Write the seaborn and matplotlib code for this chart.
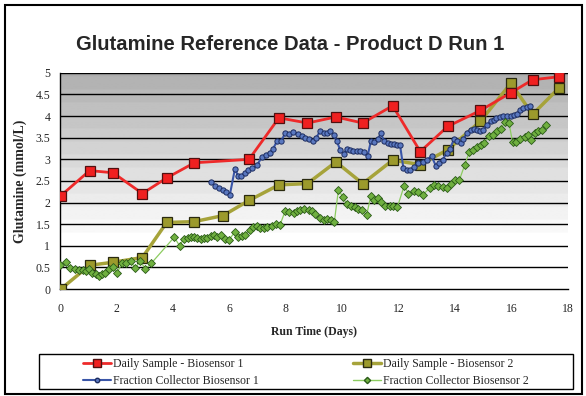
import numpy as np
import pandas as pd
import matplotlib
matplotlib.use("Agg")
import matplotlib.pyplot as plt
from matplotlib.lines import Line2D
from matplotlib.patches import Rectangle
import seaborn as sns

# daily samples
daily_days = [0.03, 1.05, 1.88, 2.92, 3.78, 4.76, 5.78, 6.70, 7.76, 8.77, 9.78,
              10.73, 11.79, 12.77, 13.74, 14.9, 15.98, 16.75, 17.67]
daily_bio1 = [2.16, 2.74, 2.69, 2.21, 2.57, 2.92, None, 3.00, 3.96, 3.84, 3.98,
              3.84, 4.24, 3.18, 3.76, 4.13, 4.54, 4.84, 4.91]
daily_bio2 = [0.00, 0.55, 0.62, 0.73, 1.54, 1.56, 1.70, 2.05, 2.41, 2.44, 2.94,
              2.44, 2.98, 2.88, 3.22, 3.88, 4.76, 4.04, 4.64]

# fraction collector, biosensor 1
frac1_days = [5.35, 5.50, 5.63, 5.76, 5.89, 6.02, 6.20, 6.32, 6.41, 6.54, 6.68, 6.82,
              6.98, 7.16, 7.30, 7.43, 7.55, 7.69, 7.83, 7.98, 8.11, 8.25, 8.42, 8.57,
              8.69, 8.81, 8.96, 9.08, 9.22, 9.34, 9.46, 9.58, 9.70, 9.81, 9.93, 10.05,
              10.17, 10.29, 10.40, 10.52, 10.64, 10.76, 10.90, 11.02, 11.12, 11.26,
              11.37, 11.49, 11.61, 11.73, 11.84, 11.96, 12.05, 12.17, 12.29, 12.41,
              12.55, 12.70, 12.88, 13.00, 13.17, 13.33, 13.43, 13.56, 13.71, 13.82,
              13.96, 14.06, 14.20, 14.30, 14.41, 14.55, 14.67, 14.79, 14.88, 15.00,
              15.14, 15.27, 15.38, 15.47, 15.61, 15.71, 15.85, 15.97, 16.09, 16.20,
              16.32, 16.41, 16.55, 16.67]
frac1_vals = [2.47, 2.39, 2.34, 2.28, 2.24, 2.18, 2.78, 2.61, 2.62, 2.68, 2.75, 2.80,
              2.86, 3.06, 3.11, 3.15, 3.24, 3.42, 3.42, 3.60, 3.58, 3.63, 3.59, 3.53,
              3.49, 3.47, 3.42, 3.50, 3.65, 3.61, 3.62, 3.65, 3.57, 3.42, 3.22, 3.13,
              3.24, 3.21, 3.19, 3.19, 3.19, 3.16, 3.07, 3.42, 3.40, 3.46,
              3.60, 3.42, 3.38, 3.36, 3.35, 3.33, 3.34, 2.80, 2.76, 2.76,
              2.82, 2.92, 2.93, 2.99, 3.07, 2.84, 2.92, 2.99, 3.15, 3.24,
              3.46, 3.43, 3.38, 3.46, 3.60, 3.69, 3.70, 3.69, 3.65, 3.69,
              3.80, 3.88, 3.92, 3.96, 3.98, 4.00, 4.01, 4.01, 4.03, 4.06,
              4.15, 4.19, 4.21, 4.23]

# fraction collector, biosensor 2
frac2_days = [0.00, 0.22, 0.37, 0.52, 0.66, 0.80, 0.93, 1.02, 1.14, 1.26, 1.37, 1.49,
              1.59, 1.73, 1.87, 2.02, 2.20, 2.34, 2.50, 2.67, 2.85, 3.03, 3.24, 4.05,
              4.24, 4.38, 4.52, 4.64, 4.75, 4.87, 4.99, 5.10, 5.22, 5.34, 5.46, 5.57,
              5.69, 5.84, 5.99, 6.21, 6.32, 6.44, 6.56, 6.72, 6.83, 6.97, 7.09, 7.23,
              7.35, 7.51, 7.66, 7.80, 7.98, 8.13, 8.28, 8.40, 8.51, 8.66, 8.81, 8.93,
              9.05, 9.22, 9.34, 9.48, 9.60, 9.72, 9.87, 10.02, 10.16, 10.31, 10.46,
              10.58, 10.70, 10.87, 11.02, 11.12, 11.26, 11.37, 11.53, 11.68, 11.82,
              11.96, 12.20, 12.35, 12.55, 12.70, 12.86, 13.11, 13.26, 13.41, 13.56,
              13.71, 13.85, 14.01, 14.16, 14.35, 14.50, 14.65, 14.79, 14.91, 15.03,
              15.22, 15.36, 15.50, 15.62, 15.77, 15.92, 16.04, 16.18, 16.32, 16.48,
              16.60, 16.71, 16.83, 16.95, 17.10, 17.22]
frac2_vals = [0.56, 0.62, 0.49, 0.46, 0.45, 0.43, 0.41, 0.46, 0.38, 0.35, 0.31, 0.35,
              0.38, 0.46, 0.51, 0.37, 0.60, 0.60, 0.64, 0.49, 0.64, 0.46, 0.60, 1.20,
              1.00, 1.16, 1.18, 1.20, 1.20, 1.18, 1.16, 1.18, 1.18, 1.22, 1.24, 1.20,
              1.26, 1.16, 1.14, 1.33, 1.20, 1.22, 1.26, 1.37, 1.43, 1.46, 1.41, 1.41,
              1.43, 1.46, 1.51, 1.49, 1.80, 1.78, 1.76, 1.80, 1.84, 1.85, 1.82, 1.80,
              1.74, 1.64, 1.60, 1.62, 1.60, 1.54, 2.30, 2.13, 1.97, 1.91, 1.90,
              1.85, 1.82, 1.72, 2.16, 2.07, 2.10, 2.01, 1.93, 1.91, 1.93,
              1.90, 2.39, 2.21, 2.26, 2.24, 2.18, 2.34, 2.41, 2.39, 2.36,
              2.34, 2.44, 2.53, 2.53, 2.88, 3.16, 3.22, 3.29, 3.34, 3.38,
              3.53, 3.57, 3.65, 3.70, 3.86, 3.83, 3.39, 3.41, 3.46, 3.52,
              3.57, 3.44, 3.60, 3.65, 3.67, 3.80]

labels = ["Daily Sample - Biosensor 1", "Daily Sample - Biosensor 2",
          "Fraction Collector Biosensor 1", "Fraction Collector Biosensor 2"]
x_ticks = list(range(0, 19, 2))
y_ticks = [0, 0.5, 1, 1.5, 2, 2.5, 3, 3.5, 4, 4.5, 5]

sns.set_style("white")
plt.rcParams["font.family"] = ["Liberation Serif", "DejaVu Serif"]

fig = plt.figure(figsize=(5.86, 3.96), dpi=100)
ax = fig.add_axes([0.1024, 0.270, 0.8666, 0.546])

# grey gradient background of the plot area
yy = np.linspace(0, 5, 400)
shade = np.clip(1.0 - (yy - 1.15) / 3.85 * 0.32, 0.68, 1.0)
shade = np.round(shade * 40) / 40
ax.imshow(shade[:, None], extent=[0, 18, 0, 5], origin="lower", aspect="auto",
          cmap="gray", vmin=0, vmax=1, zorder=0)

ax.set_axisbelow(True)
for y in y_ticks[1:]:
    ax.axhline(y, color="black", lw=1.0, zorder=1)

red = "#ee2a2a"
olive = "#a6a33a"
blue = "#3a56a8"
green_line = "#8ccc60"

df_daily = pd.DataFrame({"day": daily_days, "bio1": daily_bio1, "bio2": daily_bio2})
d1 = df_daily.dropna(subset=["bio1"])
sns.lineplot(data=df_daily, x="day", y="bio2", ax=ax, color=olive, lw=2.5,
             marker="s", ms=7, mfc="#9c9a2c", mec="#2a2a10", mew=0.9,
             estimator=None, sort=False, zorder=3)
sns.lineplot(data=d1, x="day", y="bio1", ax=ax, color=red, lw=2.0,
             marker="s", ms=7, mfc="#f02020", mec="#501010", mew=0.9,
             estimator=None, sort=False, zorder=5)

df_f1 = pd.DataFrame({"day": frac1_days, "val": frac1_vals})
sns.lineplot(data=df_f1, x="day", y="val", ax=ax, color=blue, lw=1.5,
             marker="o", ms=3.8, mfc="#5a78c0", mec="#1c2c60", mew=0.7,
             estimator=None, sort=False, zorder=4)
df_f2 = pd.DataFrame({"day": frac2_days, "val": frac2_vals})
sns.lineplot(data=df_f2, x="day", y="val", ax=ax, color=green_line, lw=0.9,
             marker="D", ms=3.8, mfc="#70b040", mec="#2a5a18", mew=0.6,
             estimator=None, sort=False, zorder=4)

ax.set_xlim(0, 18)
ax.set_ylim(0, 5)
ax.set_xticks(x_ticks)
ax.set_yticks(y_ticks)
ax.set_yticklabels([f"{v:g}" for v in y_ticks])
ax.tick_params(axis="both", direction="out", length=4, width=1, color="black",
               labelsize=8.5, pad=3)
ax.tick_params(axis="x", pad=6)
for side in ["top", "right"]:
    ax.spines[side].set_visible(False)
for side in ["left", "bottom"]:
    ax.spines[side].set_color("black")
    ax.spines[side].set_linewidth(1.0)

ax.set_xlabel("Run Time (Days)", fontsize=8.5, fontweight="bold", labelpad=8)
ax.set_ylabel("Glutamine (mmol/L)", fontsize=10, fontweight="bold", labelpad=6)
fig.text(0.495, 0.887, "Glutamine Reference Data - Product D Run 1",
         family=["Liberation Sans", "DejaVu Sans"], fontsize=14.6,
         fontweight="bold", ha="center", va="center")

handles = [
    Line2D([], [], color=red, lw=2, marker="s", ms=6, mfc="#f02020", mec="#501010"),
    Line2D([], [], color=blue, lw=1.5, marker="o", ms=3.2, mfc="#5a78c0", mec="#1c2c60"),
    Line2D([], [], color=olive, lw=2.5, marker="s", ms=6, mfc="#9c9a2c", mec="#2a2a10"),
    Line2D([], [], color=green_line, lw=1, marker="D", ms=3.2, mfc="#70b040", mec="#2a5a18"),
]
leg_labels = [labels[0], labels[2], labels[1], labels[3]]
fig.legend(handles, leg_labels, ncol=2, loc="center",
           bbox_to_anchor=(0.522, 0.059), fontsize=8.5, frameon=False,
           borderpad=0.0, handlelength=2.4, handletextpad=0.15,
           labelspacing=0.4, columnspacing=8.0)

# legend box and outer chart border
fig.patches.append(Rectangle((39 / 586, 1 - 389 / 396), 534 / 586, 35 / 396,
                             transform=fig.transFigure, fill=False,
                             edgecolor="black", lw=1.0))
fig.patches.append(Rectangle((0.008, 0.006), 0.986, 0.982, transform=fig.transFigure,
                             fill=False, edgecolor="black", lw=1.5))

fig.savefig("out.png", dpi=100)
